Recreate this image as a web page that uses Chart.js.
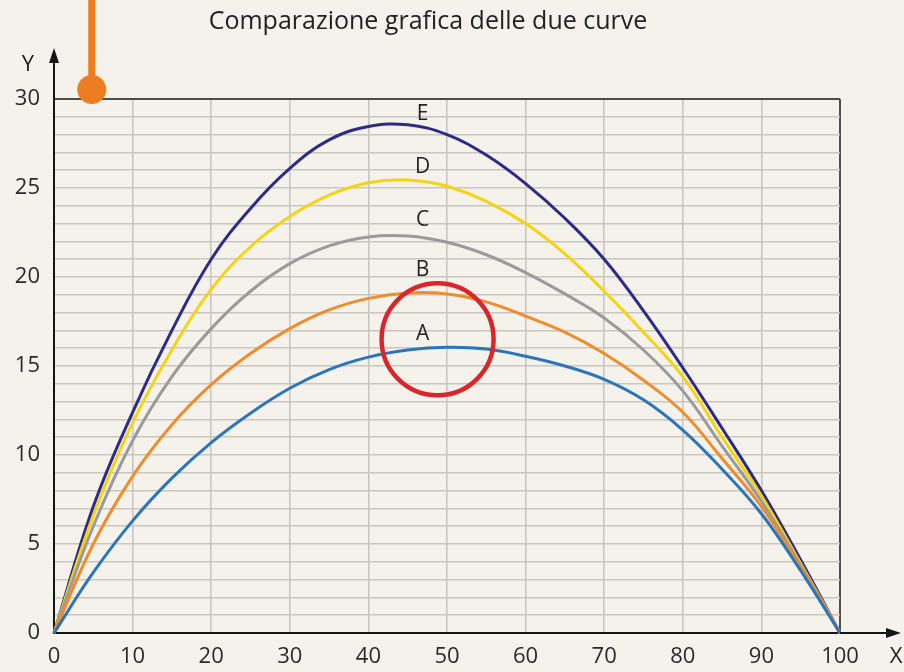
<!DOCTYPE html>
<html>
<head>
<meta charset="utf-8">
<script src="https://cdn.jsdelivr.net/npm/chart.js@4/dist/chart.umd.min.js"></script>
<style>
  html, body { margin: 0; padding: 0; background: #f5f2ec; }
  #wrap { width: 904px; height: 672px; position: relative; }
</style>
</head>
<body>
<div id="wrap"><canvas id="c" width="904" height="672"></canvas></div>
<script>
// ---- data ----
const xValues = [0, 5, 10, 15, 20, 25, 30, 35, 40, 45, 50, 55, 60, 65, 70, 75, 80, 85, 90, 95, 100];
const curveA = [0, 3.4, 6.3, 8.7, 10.7, 12.35, 13.75, 14.8, 15.5, 15.9, 16.05, 15.95, 15.55, 15.0, 14.25, 13.1, 11.4, 9.2, 6.7, 3.5, 0];
const curveB = [0, 5.0, 8.8, 11.7, 13.95, 15.7, 17.1, 18.15, 18.8, 19.1, 19.05, 18.6, 17.8, 16.9, 15.7, 14.2, 12.4, 9.8, 7.1, 3.7, 0];
const curveC = [0, 6.0, 10.8, 14.4, 17.1, 19.2, 20.75, 21.75, 22.25, 22.3, 21.95, 21.25, 20.25, 19.05, 17.7, 15.9, 13.6, 10.5, 7.4, 3.8, 0];
const curveD = [0, 6.6, 11.8, 15.9, 19.3, 21.7, 23.4, 24.6, 25.3, 25.45, 25.1, 24.25, 23.0, 21.3, 19.2, 16.9, 14.4, 11.0, 7.7, 3.9, 0];
const curveE = [0, 7.1, 12.4, 17.0, 21.0, 23.85, 26.1, 27.7, 28.45, 28.55, 28.0, 26.85, 25.25, 23.3, 21.0, 18.1, 14.9, 11.5, 8.0, 4.1, 0];
const seriesNames = ["A", "B", "C", "D", "E"];
const xTickValues = [0, 10, 20, 30, 40, 50, 60, 70, 80, 90, 100];
const yTickValues = [0, 5, 10, 15, 20, 25, 30];
const titleText = "Comparazione grafica delle due curve";

const FONT = '"Open Sans", "DejaVu Sans", sans-serif';
const colors = ["#2b75b8", "#ef8c2b", "#9b9b9b", "#f6d312", "#2c2b86"];
const allSeries = [curveA, curveB, curveC, curveD, curveE];

const datasets = allSeries.map((vals, i) => ({
  label: seriesNames[i],
  data: xValues.map((x, k) => ({ x: x, y: vals[k] })),
  borderColor: colors[i],
  borderWidth: 3,
  pointRadius: 0,
  fill: false,
  tension: 0.4,
  clip: false
}));

// label anchor positions (data units) for the curve letters
const letterPos = { E: [46.9, 29.15], D: [46.9, 26.2], C: [46.9, 23.2], B: [46.9, 20.4], A: [46.9, 16.8] };

const decor = {
  id: 'decor',
  beforeDraw(chart) {
    const ctx = chart.ctx;
    ctx.save();
    ctx.fillStyle = '#f5f2ec';
    ctx.fillRect(0, 0, chart.width, chart.height);
    ctx.restore();
  },
  afterDraw(chart) {
    const { ctx } = chart;
    const xs = chart.scales.x, ys = chart.scales.y;
    const x0 = xs.getPixelForValue(0), x100 = xs.getPixelForValue(100);
    const y0 = ys.getPixelForValue(0), y30 = ys.getPixelForValue(30);
    ctx.save();
    // axis extensions with arrows
    ctx.strokeStyle = '#151515';
    ctx.fillStyle = '#151515';
    ctx.lineWidth = 2;
    ctx.beginPath();
    ctx.moveTo(x0, y30); ctx.lineTo(x0, y30 - 40);
    ctx.moveTo(x100, y0); ctx.lineTo(x100 + 50, y0);
    ctx.stroke();
    ctx.beginPath();
    ctx.moveTo(x0, y30 - 51); ctx.lineTo(x0 - 5, y30 - 36); ctx.lineTo(x0 + 5, y30 - 36); ctx.closePath();
    ctx.fill();
    ctx.beginPath();
    ctx.moveTo(x100 + 61, y0); ctx.lineTo(x100 + 46, y0 - 5); ctx.lineTo(x100 + 46, y0 + 5); ctx.closePath();
    ctx.fill();
    // axis names
    ctx.fillStyle = '#222';
    ctx.font = '22px ' + FONT;
    ctx.textAlign = 'center';
    ctx.textBaseline = 'middle';
    ctx.fillText('Y', x0 - 26, y30 - 34);
    ctx.fillText('X', x100 + 56, y0 + 24);
    // title
    ctx.font = '25px ' + FONT;
    ctx.textBaseline = 'alphabetic';
    ctx.fillText(titleText, 428, 29);
    // curve letters
    ctx.font = '21px ' + FONT;
    ctx.textBaseline = 'middle';
    seriesNames.forEach(n => {
      const p = letterPos[n];
      ctx.fillText(n, xs.getPixelForValue(p[0]), ys.getPixelForValue(p[1]));
    });
    // red circle highlight
    ctx.strokeStyle = '#d8262b';
    ctx.lineWidth = 4.5;
    ctx.beginPath();
    ctx.arc(xs.getPixelForValue(48.8), ys.getPixelForValue(16.5), 56, 0, Math.PI * 2);
    ctx.stroke();
    // orange pin
    const px = xs.getPixelForValue(4.8);
    const py = y30 - 9.5;
    ctx.strokeStyle = '#ee7d22';
    ctx.fillStyle = '#ee7d22';
    ctx.lineWidth = 7;
    ctx.beginPath();
    ctx.moveTo(px, 0); ctx.lineTo(px, py);
    ctx.stroke();
    ctx.beginPath();
    ctx.arc(px, py, 14.5, 0, Math.PI * 2);
    ctx.fill();
    ctx.restore();
  }
};

new Chart(document.getElementById('c'), {
  type: 'line',
  data: { datasets: datasets },
  options: {
    responsive: false,
    animation: false,
    events: [],
    layout: { padding: { top: 99, right: 64, left: 0, bottom: 0 } },
    plugins: { legend: { display: false }, tooltip: { enabled: false }, title: { display: false } },
    scales: {
      x: {
        type: 'linear', min: 0, max: 100,
        afterFit(s) { s.height = 39; },
        afterBuildTicks(s) { s.ticks = xTickValues.map(v => ({ value: v })); },
        ticks: { autoSkip: false, maxRotation: 0, padding: 11, color: '#2a2a2a', font: { family: FONT, size: 22 } },
        grid: {
          drawTicks: false,
          color: c => (c.tick && c.tick.value === 100) ? '#4d4d4d' : '#c9c6c0',
          lineWidth: c => (c.tick && c.tick.value === 100) ? 2 : 1.6
        },
        border: { display: true, color: '#151515', width: 2 }
      },
      y: {
        type: 'linear', min: 0, max: 30,
        afterFit(s) { s.width = 54; },
        ticks: {
          stepSize: 1, maxTicksLimit: 100, autoSkip: false, padding: 14,
          color: '#2a2a2a', font: { family: FONT, size: 22 },
          callback: v => yTickValues.includes(v) ? String(v) : ''
        },
        grid: {
          drawTicks: false,
          color: c => (c.tick && c.tick.value === 30) ? '#4d4d4d' : '#c9c6c0',
          lineWidth: c => (c.tick && c.tick.value === 30) ? 2 : 1.6
        },
        border: { display: true, color: '#151515', width: 2 }
      }
    }
  },
  plugins: [decor]
});
</script>
</body>
</html>
